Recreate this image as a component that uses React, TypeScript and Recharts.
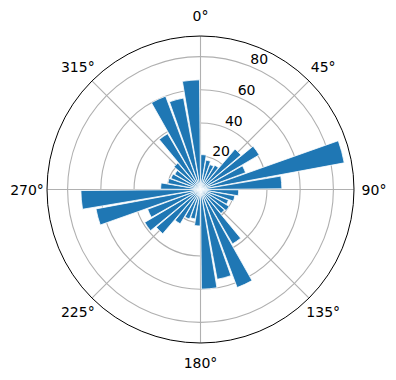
import React from 'react';
import {
  RadialBarChart, RadialBar, RadarChart, Radar, PolarAngleAxis, PolarRadiusAxis, PolarGrid,
} from 'recharts';

const directions = [0, 10, 20, 30, 40, 50, 60, 70, 80, 90, 100, 110, 120, 130, 140, 150, 160, 170,
  180, 190, 200, 210, 220, 230, 240, 250, 260, 270, 280, 290, 300, 310, 320, 330, 340, 350];
const counts = [21, 18, 16, 17, 32, 41, 29, 88, 49, 23, 21, 18, 20, 19, 38, 63, 55, 60,
  22, 18, 19, 24, 35, 39, 34, 64, 72, 24, 20, 19, 18, 21, 39, 60, 56, 66];
const angleLabels = ['0°', '45°', '90°', '135°', '180°', '225°', '270°', '315°'];
const radiusTicks = [20, 40, 60, 80];
const radiusMax = 92.4;

const barData = directions.map((d, i) => ({ dir: d, count: counts[i] }));
const gridData = angleLabels.map((label) => ({ label, zero: 0 }));

const FONT = 'DejaVu Sans';
const W = 396;
const H = 380;
const CX = 200.5;
const CY = 189.5;
const R = 153.5;

const AngleTick = (props: any) => (
  <text x={props.x} y={props.y} textAnchor="middle" dominantBaseline="central"
    fontFamily={FONT} fontSize={14} fill="#000">{props.payload.value}</text>
);

const RadiusTick = (props: any) => (
  <text x={props.x - 1} y={props.y - 2.5} textAnchor="start"
    fontFamily={FONT} fontSize={14} fill="#000">{props.payload.value}</text>
);

const layer: React.CSSProperties = { position: 'absolute', left: 0, top: 0, width: W, height: H };

export default function App() {
  return (
    <div style={{ position: 'absolute', left: 0, top: 0, width: W, height: H, background: '#fff' }}>
      <div style={layer}>
        <RadarChart width={W} height={H} data={gridData} cx={CX} cy={CY} innerRadius={0} outerRadius={R}
          startAngle={90} endAngle={-270} margin={{ top: 0, right: 0, bottom: 0, left: 0 }}>
          <PolarGrid gridType="circle" stroke="#b0b0b0" strokeWidth={1.1} />
          <PolarAngleAxis dataKey="label" tick={<AngleTick />} tickLine={false} tickSize={20}
            axisLineType="circle" axisLine={{ stroke: '#000', strokeWidth: 1 }} />
          <PolarRadiusAxis type="number" domain={[0, radiusMax]} allowDataOverflow ticks={radiusTicks}
            angle={67.5} axisLine={false} tickLine={false} tick={false} />
          <Radar dataKey="zero" stroke="none" fill="none" isAnimationActive={false} />
        </RadarChart>
      </div>
      <div style={layer}>
        <RadialBarChart width={W} height={H} data={barData} layout="centric"
          cx={CX} cy={CY} innerRadius={0} outerRadius={R}
          startAngle={80} endAngle={-280} barCategoryGap="5%"
          margin={{ top: 0, right: 0, bottom: 0, left: 0 }}>
          <PolarAngleAxis type="category" dataKey="dir" tick={false} tickLine={false} axisLine={false} />
          <PolarRadiusAxis type="number" domain={[0, radiusMax]} allowDataOverflow ticks={radiusTicks}
            angle={67.5} axisLine={false} tickLine={false} tick={<RadiusTick />} />
          <RadialBar dataKey="count" fill="#1f77b4" stroke="#fff" strokeWidth={0.8}
            isAnimationActive={false} />
        </RadialBarChart>
      </div>
    </div>
  );
}
